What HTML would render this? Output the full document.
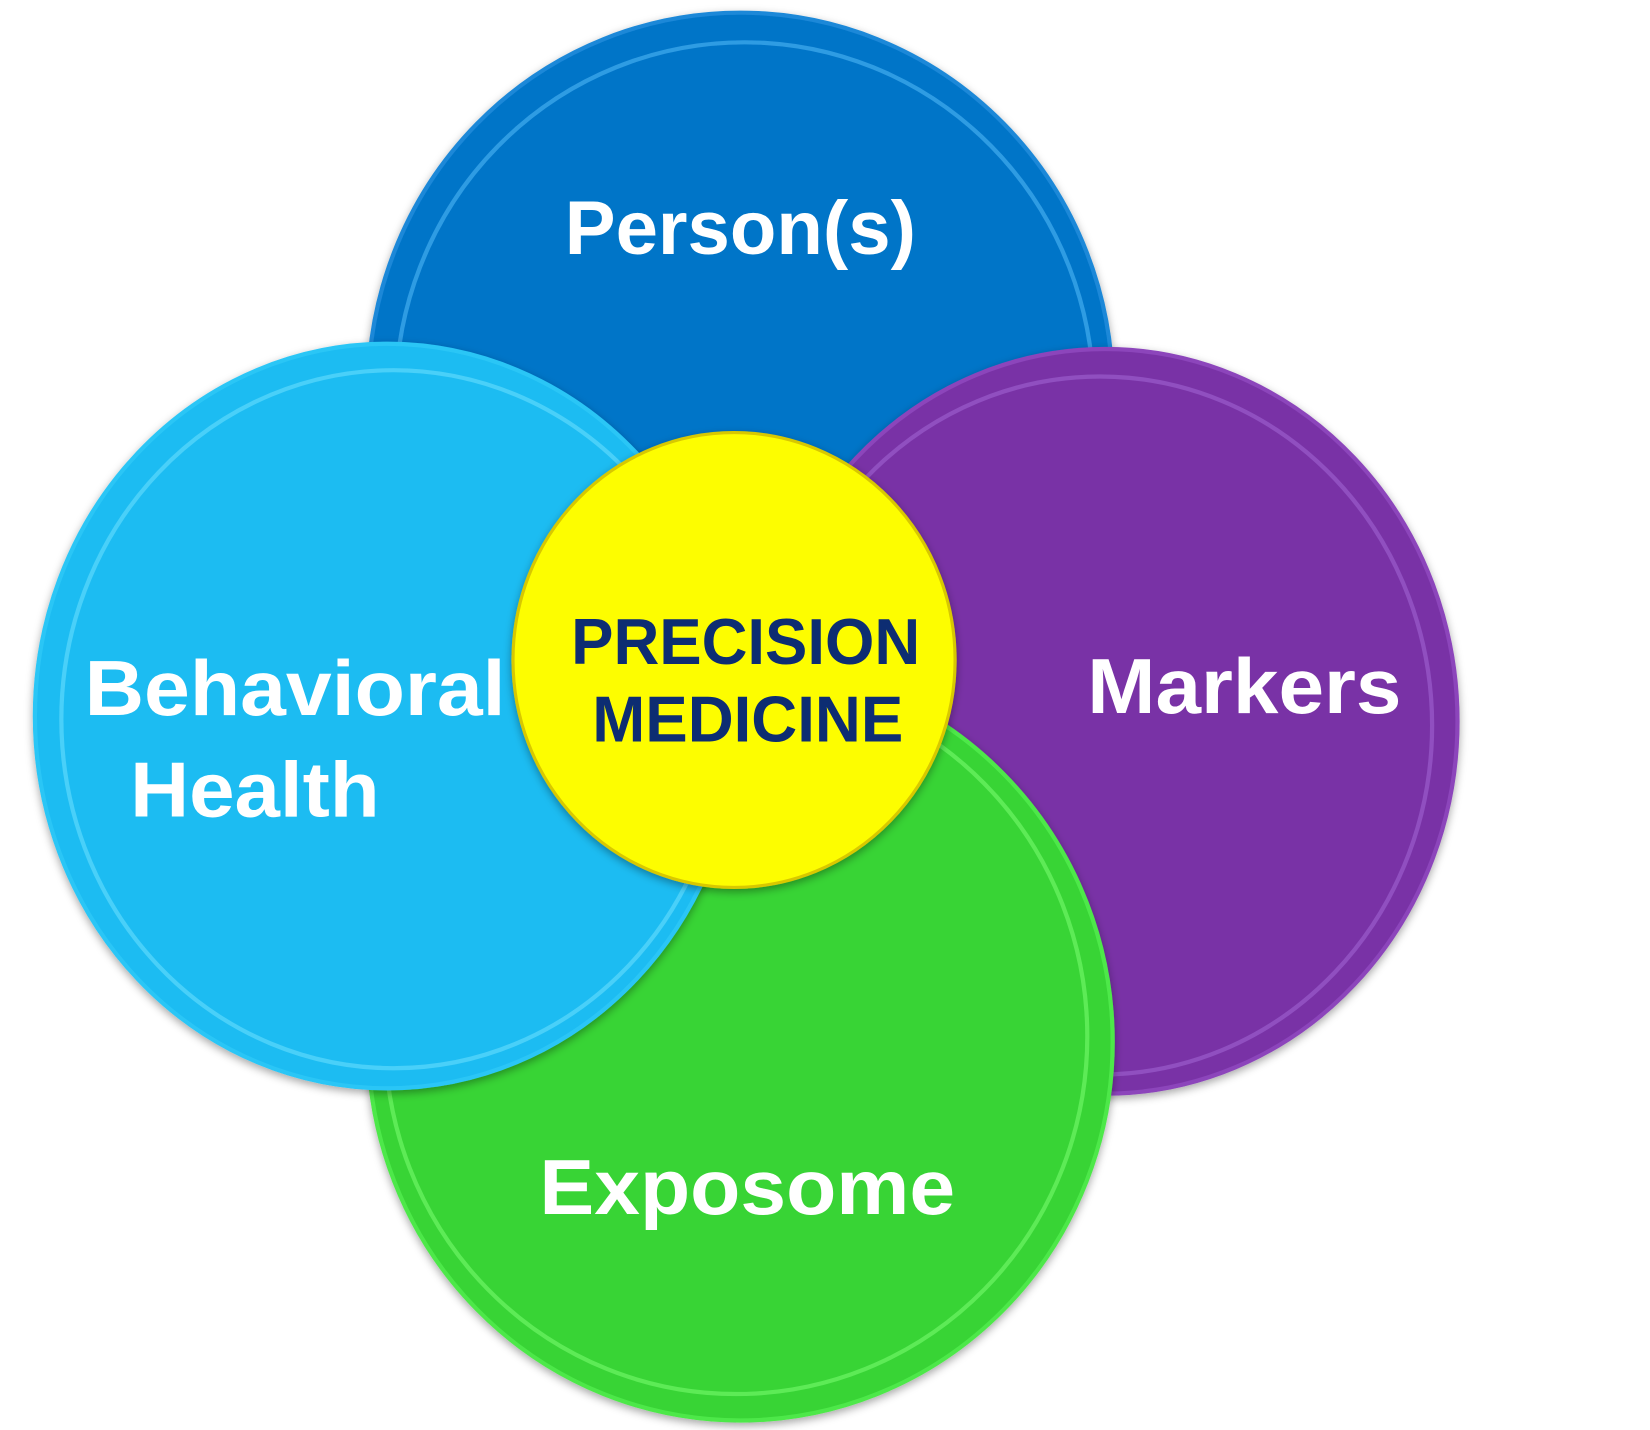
<!DOCTYPE html>
<html><head><meta charset="utf-8"><style>
html,body{margin:0;padding:0;background:#fff;}
svg{display:block;}
text{font-family:"Liberation Sans",sans-serif;font-weight:bold;}
</style></head><body>
<svg width="1650" height="1430" viewBox="0 0 1560 1352" xmlns="http://www.w3.org/2000/svg">
<defs>
<filter id="sh" x="-10%" y="-10%" width="120%" height="120%"><feDropShadow dx="0" dy="3" stdDeviation="4" flood-color="#000" flood-opacity="0.35"/></filter>
</defs>
<g filter="url(#sh)">
<ellipse cx="700" cy="370" rx="352" ry="358" fill="#0474c8" stroke="#1a88d8" stroke-width="4"/>
<ellipse cx="704" cy="376" rx="330" ry="336" fill="none" stroke="#3aa6ea" stroke-width="4" opacity="0.8"/>
</g>
<g filter="url(#sh)">
<ellipse cx="1045" cy="682" rx="333" ry="352" fill="#7933a6" stroke="#8c45bb" stroke-width="4"/>
<ellipse cx="1040" cy="686" rx="314" ry="330" fill="none" stroke="#9a5ccc" stroke-width="4" opacity="0.7"/>
</g>
<g filter="url(#sh)">
<ellipse cx="700" cy="985" rx="352" ry="358" fill="#37d435" stroke="#4ee84a" stroke-width="4"/>
<ellipse cx="696" cy="980" rx="332" ry="338" fill="none" stroke="#66f060" stroke-width="4" opacity="0.8"/>
</g>
<g filter="url(#sh)">
<ellipse cx="366" cy="677" rx="333" ry="352" fill="#1ebcf2" stroke="#2cc6f6" stroke-width="4"/>
<ellipse cx="372" cy="680" rx="314" ry="330" fill="none" stroke="#52d4fa" stroke-width="4" opacity="0.8"/>
</g>
<g filter="url(#sh)">
<ellipse cx="694" cy="624" rx="209" ry="215" fill="#fdfd00" stroke="#d8c800" stroke-width="3"/>
</g>
<text x="700" y="240" font-size="72" fill="#fff" text-anchor="middle">Person(s)</text>
<text x="80" y="676" font-size="74" fill="#fff" textLength="398" lengthAdjust="spacingAndGlyphs">Behavioral</text>
<text x="123" y="772" font-size="74" fill="#fff" textLength="236" lengthAdjust="spacingAndGlyphs">Health</text>
<text x="1028" y="674" font-size="74" fill="#fff" textLength="297" lengthAdjust="spacingAndGlyphs">Markers</text>
<text x="510" y="1148" font-size="74" fill="#fff" textLength="393" lengthAdjust="spacingAndGlyphs">Exposome</text>
<text x="540" y="628" font-size="61" fill="#0d2d72" textLength="330" lengthAdjust="spacingAndGlyphs">PRECISION</text>
<text x="560" y="701" font-size="61" fill="#0d2d72" textLength="294" lengthAdjust="spacingAndGlyphs">MEDICINE</text>
</svg>
</body></html>
